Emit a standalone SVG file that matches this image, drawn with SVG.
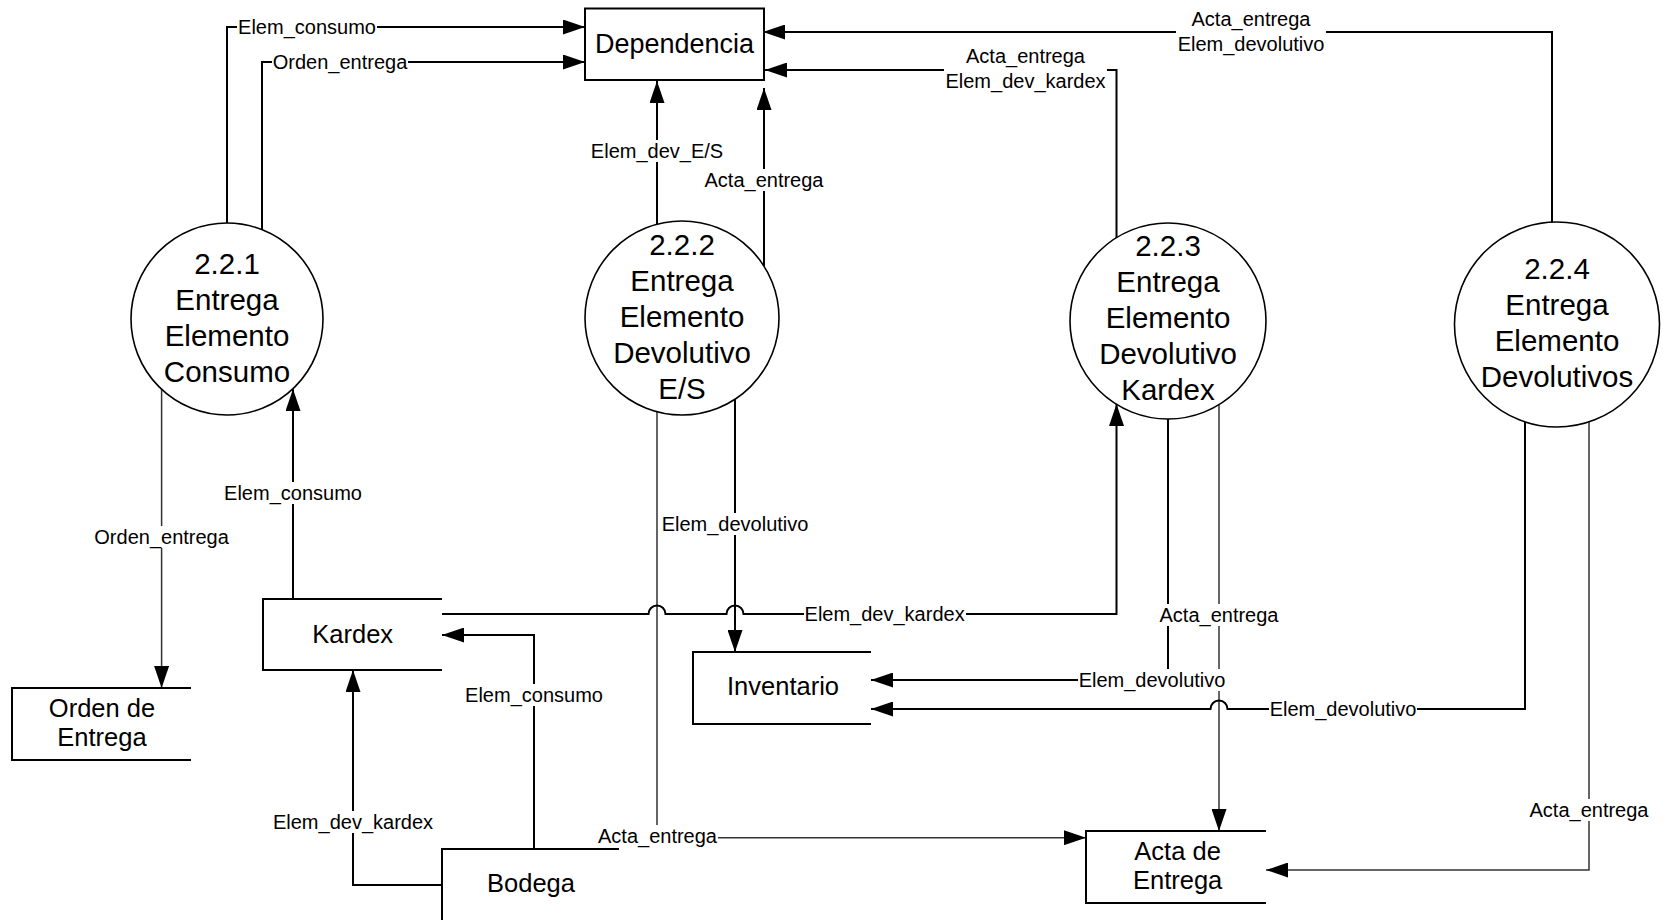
<svg xmlns="http://www.w3.org/2000/svg" width="1663" height="920" viewBox="0 0 1663 920">
<style>
.bg{fill:#fff}
.ln{fill:none;stroke:#000;stroke-width:2}
.thin{fill:none;stroke:#333;stroke-width:1.5}
.box{fill:#fff;stroke:#000;stroke-width:2}
.store{fill:none;stroke:#000;stroke-width:2}
.proc{fill:#fff;stroke:#000;stroke-width:1.6}
.big{font-family:"Liberation Sans",Arial,sans-serif;font-size:29.5px;text-anchor:middle;fill:#000}
.st{font-family:"Liberation Sans",Arial,sans-serif;font-size:25.5px;text-anchor:middle;fill:#000}
.lbl{font-family:"Liberation Sans",Arial,sans-serif;font-size:20px;text-anchor:middle;fill:#000}
.lb{fill:#fff;stroke:none}
</style>
<defs>
<marker id="arr" markerUnits="userSpaceOnUse" markerWidth="22" markerHeight="15" refX="22" refY="7.5" orient="auto">
<path d="M0,0 L22,7.5 L0,15 Z" fill="#000"/>
</marker>
</defs>
<rect class="bg" x="0" y="0" width="1663" height="920"/>

<g id="connectors">
<path class="ln" d="M227,223 V27 H585" marker-end="url(#arr)"/>
<path class="ln" d="M262,230 V62 H585" marker-end="url(#arr)"/>
<path class="ln" d="M657,224 V81" marker-end="url(#arr)"/>
<path class="ln" d="M764,266 V88" marker-end="url(#arr)"/>
<path class="ln" d="M1116.5,238 V70 H765" marker-end="url(#arr)"/>
<path class="ln" d="M1552,223 V32 H763" marker-end="url(#arr)"/>
<path class="thin" d="M161.6,389 V688" marker-end="url(#arr)"/>
<path class="ln" d="M293,599 V389" marker-end="url(#arr)"/>
<path class="ln" d="M735,399 V652" marker-end="url(#arr)"/>
<path class="thin" d="M657,412 V837.7 H1086" marker-end="url(#arr)"/>
<path class="ln" d="M442,614 H648.5 A8.5,8.5 0 0 1 665.5,614 H726.5 A8.5,8.5 0 0 1 743.5,614 H1116.5 V404" marker-end="url(#arr)"/>
<path class="ln" d="M1168,419 V680 H871" marker-end="url(#arr)"/>
<path class="thin" d="M1219,405 V831" marker-end="url(#arr)"/>
<path class="ln" d="M1525,421 V709 H1227.5 A8.5,8.5 0 0 0 1210.5,709 H871" marker-end="url(#arr)"/>
<path class="thin" d="M1589,421.5 V870 H1266" marker-end="url(#arr)"/>
<path class="ln" d="M534,849 V635 H442" marker-end="url(#arr)"/>
<path class="ln" d="M442,885 H353 V670" marker-end="url(#arr)"/>

<g id="labels">
<rect class="lb" x="237" y="16" width="140" height="22"/><text class="lbl" x="307" y="34">Elem_consumo</text>
<rect class="lb" x="272" y="51" width="136" height="22"/><text class="lbl" x="340" y="69">Orden_entrega</text>
<rect class="lb" x="590" y="140" width="134" height="22"/><text class="lbl" x="657" y="158">Elem_dev_E/S</text>
<rect class="lb" x="703" y="169" width="122" height="22"/><text class="lbl" x="764" y="187">Acta_entrega</text>
<rect class="lb" x="944" y="46" width="163" height="46"/><text class="lbl" x="1025.5" y="63">Acta_entrega</text><text class="lbl" x="1025.5" y="88">Elem_dev_kardex</text>
<rect class="lb" x="1176" y="8" width="150" height="46"/><text class="lbl" x="1251" y="26">Acta_entrega</text><text class="lbl" x="1251" y="50.5">Elem_devolutivo</text>
<rect class="lb" x="93" y="526" width="137" height="22"/><text class="lbl" x="161.6" y="544">Orden_entrega</text>
<rect class="lb" x="223" y="482" width="140" height="22"/><text class="lbl" x="293" y="500">Elem_consumo</text>
<rect class="lb" x="661" y="513" width="148" height="22"/><text class="lbl" x="735" y="531">Elem_devolutivo</text>
<rect class="lb" x="597" y="825" width="121" height="22"/><text class="lbl" x="657.5" y="843">Acta_entrega</text>
<rect class="lb" x="804" y="603" width="162" height="22"/><text class="lbl" x="884.6" y="621">Elem_dev_kardex</text>
<rect class="lb" x="1078" y="669" width="148" height="22"/><text class="lbl" x="1152" y="687">Elem_devolutivo</text>
<rect class="lb" x="1158" y="604" width="122" height="22"/><text class="lbl" x="1219" y="622">Acta_entrega</text>
<rect class="lb" x="1269" y="698" width="148" height="22"/><text class="lbl" x="1343" y="716">Elem_devolutivo</text>
<rect class="lb" x="1528" y="799" width="122" height="22"/><text class="lbl" x="1589" y="817">Acta_entrega</text>
<rect class="lb" x="464" y="684" width="140" height="22"/><text class="lbl" x="534" y="702">Elem_consumo</text>
<rect class="lb" x="272" y="811" width="162" height="22"/><text class="lbl" x="353" y="829">Elem_dev_kardex</text>
</g>
</g>

<g id="dependencia">
<rect class="box" x="585" y="8.5" width="179" height="71.5"/>
<text class="st" x="674.5" y="53" style="font-size:27px">Dependencia</text>
</g>

<g id="p221">
<circle class="proc" cx="227" cy="319" r="96"/>
<text class="big" x="227" y="274">2.2.1</text>
<text class="big" x="227" y="310">Entrega</text>
<text class="big" x="227" y="346">Elemento</text>
<text class="big" x="227" y="382">Consumo</text>
</g>

<g id="p222">
<circle class="proc" cx="682" cy="318" r="97"/>
<text class="big" x="682" y="255">2.2.2</text>
<text class="big" x="682" y="291">Entrega</text>
<text class="big" x="682" y="327">Elemento</text>
<text class="big" x="682" y="363">Devolutivo</text>
<text class="big" x="682" y="399">E/S</text>
</g>

<g id="p223">
<circle class="proc" cx="1168" cy="321" r="98"/>
<text class="big" x="1168" y="256">2.2.3</text>
<text class="big" x="1168" y="292">Entrega</text>
<text class="big" x="1168" y="328">Elemento</text>
<text class="big" x="1168" y="364">Devolutivo</text>
<text class="big" x="1168" y="400">Kardex</text>
</g>

<g id="p224">
<circle class="proc" cx="1557" cy="324.5" r="102.5"/>
<text class="big" x="1557" y="279">2.2.4</text>
<text class="big" x="1557" y="315">Entrega</text>
<text class="big" x="1557" y="351">Elemento</text>
<text class="big" x="1557" y="387">Devolutivos</text>
</g>

<g id="kardex">
<path class="store" d="M442,599 H263 V670 H442"/>
<text class="st" x="352.7" y="642.7">Kardex</text>
</g>

<g id="orden">
<path class="store" d="M191,688 H12 V760 H191"/>
<text class="st" x="102" y="717">Orden de</text>
<text class="st" x="102" y="746">Entrega</text>
</g>

<g id="inventario">
<path class="store" d="M871,652 H693 V724 H871"/>
<text class="st" x="783" y="695">Inventario</text>
</g>

<g id="acta">
<path class="store" d="M1266,831 H1086 V903 H1266"/>
<text class="st" x="1177.6" y="860">Acta de</text>
<text class="st" x="1177.6" y="889">Entrega</text>
</g>

<g id="bodega">
<path class="store" d="M619,849 H442 V920"/>
<text class="st" x="531" y="892">Bodega</text>
</g>
</svg>
